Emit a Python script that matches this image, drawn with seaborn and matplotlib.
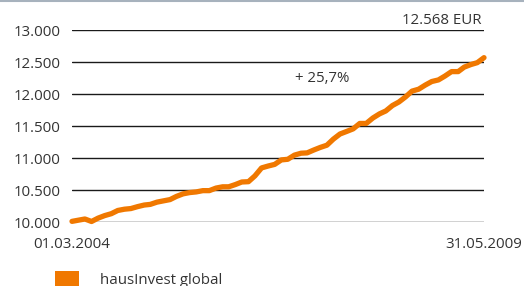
import pandas as pd
import matplotlib
matplotlib.use("Agg")
import matplotlib.pyplot as plt
import seaborn as sns
from matplotlib.patches import Rectangle
from matplotlib.lines import Line2D

# Wertentwicklung hausInvest global, 01.03.2004 - 31.05.2009 (Monatswerte)
start_date = "2004-03-01"
end_date = "2009-05-31"
values = [
    10010, 10047, 10008, 10060, 10100, 10130, 10180, 10200, 10210, 10240,
    10265, 10275, 10310, 10330, 10350, 10400, 10440, 10460, 10470, 10490,
    10490, 10530, 10550, 10550, 10585, 10625, 10630, 10720, 10845, 10875,
    10900, 10970, 10980, 11045, 11075, 11080, 11125, 11165, 11200, 11295,
    11375, 11415, 11455, 11540, 11540, 11625, 11690, 11735, 11820, 11875,
    11955, 12045, 12075, 12140, 12195, 12220, 12280, 12350, 12350, 12420,
    12460, 12490, 12568,
]
y_ticks = [10000, 10500, 11000, 11500, 12000, 12500, 13000]
x_labels = ["01.03.2004", "31.05.2009"]
series_name = "hausInvest global"
end_label = "12.568 EUR"
change_label = "+ 25,7%"

dates = [pd.Timestamp(start_date)] + list(
    pd.date_range("2004-04-30", end_date, freq="ME")
)
df = pd.DataFrame({"Datum": dates, "Wert": values})

sns.set_style("white")
plt.rcParams["font.family"] = ["Open Sans", "DejaVu Sans"]

orange = "#f07800"
text_col = "#333333"
fs = 10.8
W, H = 524, 286

fig = plt.figure(figsize=(W / 100, H / 100), dpi=100)
ax = fig.add_axes([72 / W, 1 - 222 / H, 412 / W, 192 / H])

sns.lineplot(data=df, x="Datum", y="Wert", ax=ax, color=orange,
             linewidth=3.8, clip_on=False, zorder=3)

ax.set_xlim(df["Datum"].iloc[0], df["Datum"].iloc[-1])
ax.set_ylim(10000, 13000)
ax.set_yticks(y_ticks)
ax.set_yticklabels([f"{v:,}".replace(",", ".") for v in y_ticks],
                   fontsize=fs, color=text_col)
ax.set_xticks([df["Datum"].iloc[0], df["Datum"].iloc[-1]])
ax.set_xticklabels(x_labels, fontsize=fs, color=text_col)
ax.tick_params(axis="y", length=0, pad=8)
ax.tick_params(axis="x", length=0, pad=11)
ax.set_xlabel("")
ax.set_ylabel("")
for s in ax.spines.values():
    s.set_visible(False)
ax.yaxis.grid(True, color="#1a1a1a", linewidth=1.0)
ax.set_axisbelow(True)

# Beschriftungen
fig.text(482 / W, 1 - 21 / H, end_label, ha="right", va="center",
         fontsize=fs, color=text_col)
fig.text(295 / W, 1 - 79 / H, change_label, ha="left", va="center",
         fontsize=fs, color=text_col)

# Legende
fig.add_artist(Rectangle((55 / W, 0), 24 / W, 15 / H,
                         transform=fig.transFigure, color=orange, lw=0))
fig.text(100 / W, 1 - 281 / H, series_name, ha="left", va="center",
         fontsize=fs, color=text_col)

# graue Linie oben
fig.add_artist(Line2D([0, 1], [1 - 0.5 / H, 1 - 0.5 / H],
                      transform=fig.transFigure, color="#a7b2bd", lw=1.5))

fig.savefig("out.png", dpi=100, facecolor="white")
